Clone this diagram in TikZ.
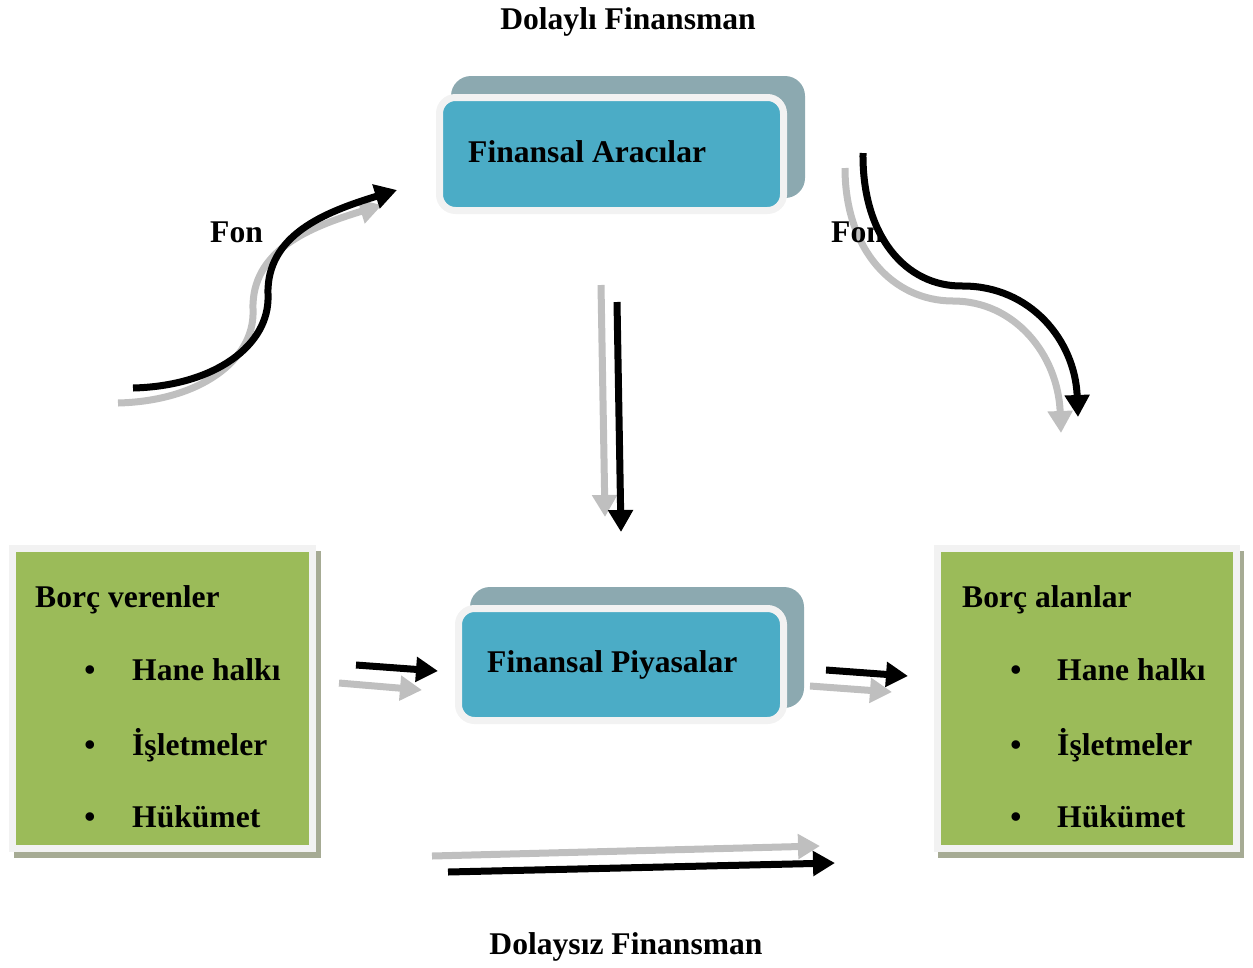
\documentclass[tikz,border=0pt]{standalone}
\usepackage{fontspec}
\setmainfont{Liberation Serif}
\usetikzlibrary{arrows.meta,backgrounds}
\definecolor{aqua}{HTML}{4BACC6}
\definecolor{backteal}{HTML}{8CA9B0}
\definecolor{rim}{HTML}{F2F2F2}
\definecolor{olivegreen}{HTML}{9BBB59}
\definecolor{oliveshadow}{HTML}{A6AB94}
\definecolor{ghost}{HTML}{BFBFBF}
\begin{document}
\begin{tikzpicture}[x=1pt,y=-1pt,
  lbl/.style={font=\fontsize{31.6}{36}\selectfont\bfseries, inner sep=0pt, anchor=base west},
  ttl/.style={font=\fontsize{31.6}{36}\selectfont\bfseries, inner sep=0pt, anchor=base},
  bul/.style={font=\fontsize{31.6}{36}\selectfont\bfseries, inner sep=0pt, anchor=base},
  backbox/.style={fill=backteal, draw=none, rounded corners=20pt, inner sep=0pt},
  frontbox/.style={fill=aqua, draw=rim, line width=7pt, rounded corners=16pt, inner sep=0pt},
  greenbox/.style={fill=olivegreen, draw=rim, line width=7pt, inner sep=0pt},
  blkarrow/.style={line width=7pt, color=black, -{Triangle[length=22pt,width=24pt]}},
  gryarrow/.style={line width=7pt, color=ghost, -{Triangle[length=22pt,width=24pt]}}
]
\useasboundingbox (0,0) rectangle (1253,967);

% titles
\node[ttl] (top) at (628,29) {Dolaylı Finansman};
\node[ttl] (bottom) at (626,954) {Dolaysız Finansman};

% Finansal Aracilar
\node[backbox, minimum width=354pt, minimum height=122pt] (aracB) at (628,137) {};
\node[frontbox, minimum width=344pt, minimum height=113pt] (arac) at (611.5,154) {};
\node[lbl] (aracT) at (468,162) {Finansal Aracılar};

% Finansal Piyasalar
\node[backbox, minimum width=334pt, minimum height=121pt] (piyB) at (637,647.5) {};
\node[frontbox, minimum width=325pt, minimum height=112pt] (piy) at (621,664.5) {};
\node[lbl] (piyT) at (487,672) {Finansal Piyasalar};

% green boxes
\node[greenbox, minimum width=300pt, minimum height=300pt] (lb) at (162.5,698.5) {};
\node[greenbox, minimum width=299pt, minimum height=300pt] (rb) at (1087,698.5) {};
\begin{scope}[on background layer]
  \fill[oliveshadow] ([shift={(5,6)}]lb.north west) rectangle ([shift={(5,6)}]lb.south east);
  \fill[oliveshadow] ([shift={(4,6)}]rb.north west) rectangle ([shift={(4,6)}]rb.south east);
\end{scope}

\node[lbl] (lbT) at (35,607) {Borç verenler};
\node[bul] (lbb1) at (90,680) {•};
\node[bul] (lbb2) at (90,755) {•};
\node[bul] (lbb3) at (90,827) {•};
\node[lbl] (lbi1) at (132,680) {Hane halkı};
\node[lbl] (lbi2) at (132,755) {İşletmeler};
\node[lbl] (lbi3) at (132,827) {Hükümet};

\node[lbl] (rbT) at (962,607) {Borç alanlar};
\node[bul] (rbb1) at (1016,680) {•};
\node[bul] (rbb2) at (1016,755) {•};
\node[bul] (rbb3) at (1016,827) {•};
\node[lbl] (rbi1) at (1057,680) {Hane halkı};
\node[lbl] (rbi2) at (1057,755) {İşletmeler};
\node[lbl] (rbi3) at (1057,827) {Hükümet};

% coordinates of arrow ends
\coordinate (ls0) at (133,388); \coordinate (ls1) at (397,190);
\coordinate (lg0) at (118,403); \coordinate (lg1) at (382,205);
\coordinate (rs0) at (863,153); \coordinate (rs1) at (1078,417);
\coordinate (rg0) at (845,168); \coordinate (rg1) at (1061,433);
\coordinate (vs0) at (617,302); \coordinate (vs1) at (621,532);
\coordinate (vg0) at (601,285); \coordinate (vg1) at (605,517);
\coordinate (ks0) at (356,665); \coordinate (ks1) at (438,671);
\coordinate (kg0) at (339,683); \coordinate (kg1) at (422,690);
\coordinate (ms0) at (826,670); \coordinate (ms1) at (908,676);
\coordinate (mg0) at (810,686); \coordinate (mg1) at (892,692);
\coordinate (bs0) at (448,872); \coordinate (bs1) at (835,863);
\coordinate (bg0) at (432,856); \coordinate (bg1) at (820,846);

% left S arrow
\draw[gryarrow] (lg0) .. controls (200,401) and (255,360) .. (253,310) .. controls (251,250) and (310,227) .. (lg1);
\draw[blkarrow] (ls0) .. controls (215,386) and (270,345) .. (268,295) .. controls (266,235) and (325,212) .. (ls1);
\node[lbl] (fonL) at (210,242) {Fon};

% right S arrow
\draw[gryarrow] (rg0) .. controls (845,250) and (893,301) .. (953,301) .. controls (1015,301) and (1058,355) .. (rg1);
\node[lbl] (fonR) at (831,242) {Fon};
\draw[blkarrow] (rs0) .. controls (862,235) and (905,287) .. (963,286) .. controls (1030,286) and (1075,340) .. (rs1);

% straight arrows
\draw[gryarrow] (vg0) -- (vg1);
\draw[blkarrow] (vs0) -- (vs1);
\draw[gryarrow] (kg0) -- (kg1);
\draw[blkarrow] (ks0) -- (ks1);
\draw[gryarrow] (mg0) -- (mg1);
\draw[blkarrow] (ms0) -- (ms1);
\draw[gryarrow] (bg0) -- (bg1);
\draw[blkarrow] (bs0) -- (bs1);
\end{tikzpicture}
\end{document}
